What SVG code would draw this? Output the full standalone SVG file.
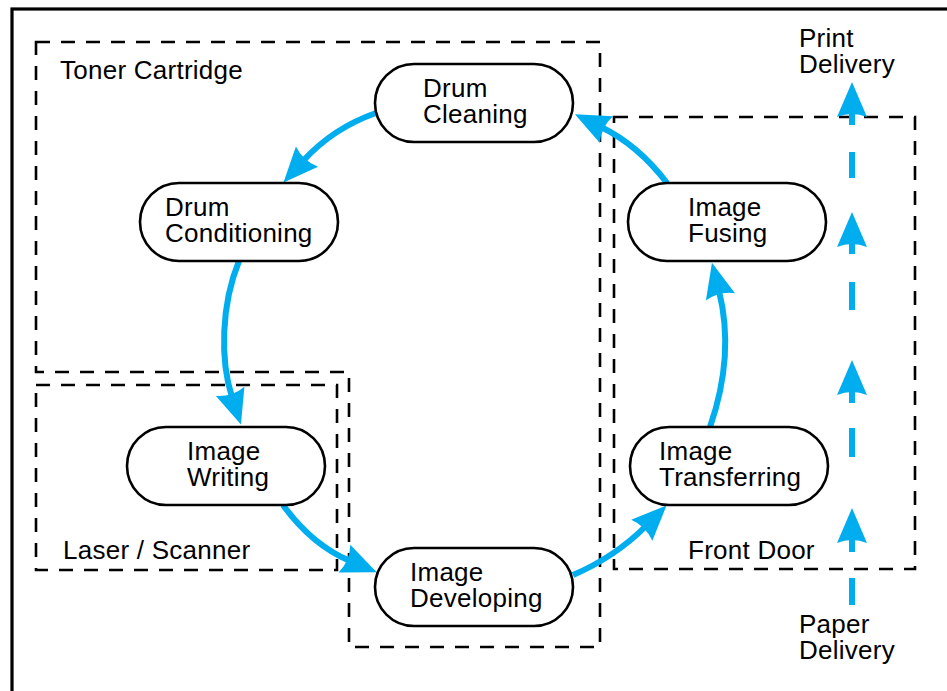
<svg xmlns="http://www.w3.org/2000/svg" width="947" height="691" viewBox="0 0 947 691">
<style>
.frame{fill:none;stroke:#000;stroke-width:3.2}
.zone{fill:none;stroke:#000;stroke-width:2.6;stroke-dasharray:14 11}
.node{fill:#fff;stroke:#000;stroke-width:2.6}
.t{font-family:"Liberation Sans",Arial,Helvetica,sans-serif;font-size:26px;letter-spacing:0.25px;fill:#000}
.flow{fill:none;stroke:#00AEEF;stroke-width:6}
</style>
<defs>
<marker id="ah" markerUnits="userSpaceOnUse" markerWidth="40" markerHeight="34" viewBox="-2 -17 40 34" refX="6" refY="0" orient="auto">
<path d="M0,-15 L35,0 L0,15 Q6,0 0,-15 Z" fill="#00AEEF"/>
</marker>
</defs>
<rect class="frame" x="12" y="9" width="960" height="720"/>
<g id="zones">
<g id="toner-cartridge">
<path class="zone" d="M36,42 H600 V647 H349 V372 H36 Z"/>
<text class="t" x="60" y="79">Toner Cartridge</text>
</g>
<g id="laser-scanner">
<rect class="zone" x="36" y="385" width="301" height="185"/>
<text class="t" x="63" y="559">Laser / Scanner</text>
</g>
<g id="front-door">
<rect class="zone" x="614" y="117" width="301" height="452"/>
<text class="t" x="688" y="559">Front Door</text>
</g>
</g>
<g id="connectors">
<path class="flow" d="M376,113 Q333,128 303,161" marker-end="url(#ah)"/>
<path class="flow" d="M239,261 C221,305 220,360 232,397" marker-end="url(#ah)"/>
<path class="flow" d="M283,505 Q312,545 350,561" marker-end="url(#ah)"/>
<path class="flow" d="M573,575 Q615,557 646,526" marker-end="url(#ah)"/>
<path class="flow" d="M710,427 Q735,355 719,291" marker-end="url(#ah)"/>
<path class="flow" d="M667,183 Q638,145 601,127" marker-end="url(#ah)"/>
<g id="paper-path">
<line class="flow" x1="852" y1="605" x2="852" y2="578"/>
<line class="flow" x1="852" y1="552" x2="852" y2="537" marker-end="url(#ah)"/>
<line class="flow" x1="852" y1="457" x2="852" y2="428"/>
<line class="flow" x1="852" y1="403" x2="852" y2="389" marker-end="url(#ah)"/>
<line class="flow" x1="852" y1="310" x2="852" y2="282"/>
<line class="flow" x1="852" y1="254" x2="852" y2="241" marker-end="url(#ah)"/>
<line class="flow" x1="852" y1="178" x2="852" y2="152"/>
<line class="flow" x1="852" y1="125" x2="852" y2="111" marker-end="url(#ah)"/>
</g>
</g>
<g id="drum-cleaning">
<rect class="node" x="375" y="64" width="198" height="78" rx="39"/>
<text class="t" x="423" y="97">Drum<tspan x="423" dy="26">Cleaning</tspan></text>
</g>
<g id="drum-conditioning">
<rect class="node" x="140" y="183" width="198" height="78" rx="39"/>
<text class="t" x="165" y="216">Drum<tspan x="165" dy="26">Conditioning</tspan></text>
</g>
<g id="image-writing">
<rect class="node" x="127" y="427" width="198" height="78" rx="39"/>
<text class="t" x="187" y="460">Image<tspan x="187" dy="26">Writing</tspan></text>
</g>
<g id="image-developing">
<rect class="node" x="375" y="548" width="198" height="78" rx="39"/>
<text class="t" x="410" y="581">Image<tspan x="410" dy="26">Developing</tspan></text>
</g>
<g id="image-transferring">
<rect class="node" x="630" y="427" width="198" height="78" rx="39"/>
<text class="t" x="659" y="460">Image<tspan x="659" dy="26">Transferring</tspan></text>
</g>
<g id="image-fusing">
<rect class="node" x="628" y="183" width="198" height="78" rx="39"/>
<text class="t" x="688" y="216">Image<tspan x="688" dy="26">Fusing</tspan></text>
</g>
<g id="print-delivery">
<text class="t" x="799" y="47">Print<tspan x="799" dy="26">Delivery</tspan></text>
</g>
<g id="paper-delivery">
<text class="t" x="799" y="633">Paper<tspan x="799" dy="26">Delivery</tspan></text>
</g>
</svg>
